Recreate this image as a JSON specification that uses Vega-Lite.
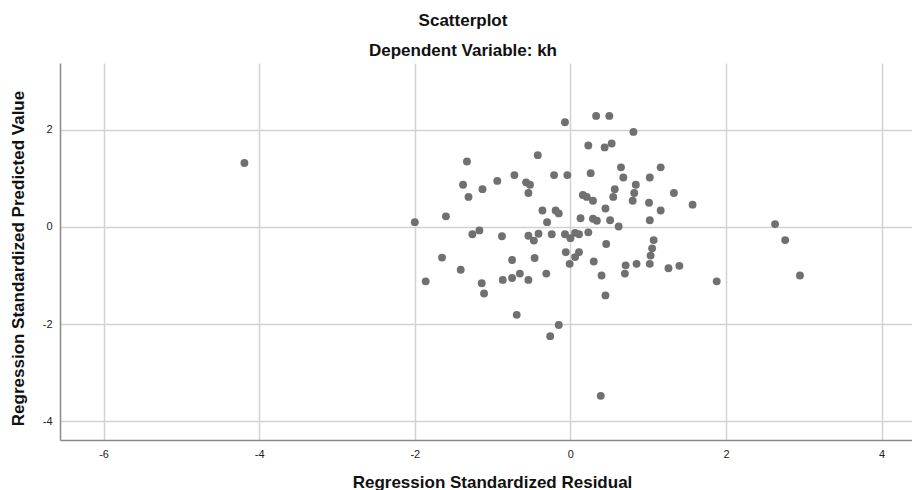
{
  "$schema": "https://vega.github.io/schema/vega-lite/v6.json",
  "autosize": {"type": "none"},
  "padding": {"left": 60, "top": 63, "right": 0, "bottom": 50},
  "width": 852,
  "height": 377,
  "background": "white",
  "title": {
    "text": "Scatterplot",
    "subtitle": "Dependent Variable: kh",
    "font": "Liberation Sans",
    "subtitleFont": "Liberation Sans",
    "fontSize": 17,
    "subtitleFontSize": 17,
    "fontWeight": "bold",
    "subtitleFontWeight": "bold",
    "color": "#111",
    "subtitleColor": "#111",
    "subtitlePadding": 13,
    "offset": 3,
    "dx": -23
  },
  "data": {
    "values": [
      {"residual": -4.19, "predicted": 1.32},
      {"residual": -2.0, "predicted": 0.1},
      {"residual": -1.86, "predicted": -1.12},
      {"residual": -1.65, "predicted": -0.63},
      {"residual": -1.6, "predicted": 0.22},
      {"residual": -1.41, "predicted": -0.88},
      {"residual": -1.38, "predicted": 0.87},
      {"residual": -1.33, "predicted": 1.35},
      {"residual": -1.31, "predicted": 0.62},
      {"residual": -1.26, "predicted": -0.15},
      {"residual": -1.17, "predicted": -0.07},
      {"residual": -1.14, "predicted": -1.16},
      {"residual": -1.13, "predicted": 0.78},
      {"residual": -1.11, "predicted": -1.37},
      {"residual": -0.94, "predicted": 0.95},
      {"residual": -0.88, "predicted": -0.19},
      {"residual": -0.87, "predicted": -1.09},
      {"residual": -0.75, "predicted": -1.05},
      {"residual": -0.75, "predicted": -0.68},
      {"residual": -0.72, "predicted": 1.07},
      {"residual": -0.69, "predicted": -1.81},
      {"residual": -0.65, "predicted": -0.96},
      {"residual": -0.57, "predicted": 0.92},
      {"residual": -0.52, "predicted": 0.87},
      {"residual": -0.54, "predicted": 0.7},
      {"residual": -0.54, "predicted": -0.18},
      {"residual": -0.54, "predicted": -1.09},
      {"residual": -0.47, "predicted": -0.28},
      {"residual": -0.46, "predicted": -0.64},
      {"residual": -0.42, "predicted": 1.48},
      {"residual": -0.41, "predicted": -0.14},
      {"residual": -0.36, "predicted": 0.34},
      {"residual": -0.31, "predicted": -0.96},
      {"residual": -0.3, "predicted": 0.1},
      {"residual": -0.26, "predicted": -2.25},
      {"residual": -0.24, "predicted": -0.15},
      {"residual": -0.21, "predicted": 1.07},
      {"residual": -0.19, "predicted": 0.34},
      {"residual": -0.15, "predicted": 0.28},
      {"residual": -0.15, "predicted": -2.02},
      {"residual": -0.07, "predicted": 2.16},
      {"residual": -0.07, "predicted": -0.15},
      {"residual": -0.06, "predicted": -0.52},
      {"residual": -0.04, "predicted": 1.07},
      {"residual": 0.0, "predicted": -0.23},
      {"residual": -0.01, "predicted": -0.76},
      {"residual": 0.06, "predicted": -0.12},
      {"residual": 0.06, "predicted": -0.62},
      {"residual": 0.11, "predicted": -0.15},
      {"residual": 0.11, "predicted": -0.52},
      {"residual": 0.13, "predicted": 0.18},
      {"residual": 0.16, "predicted": 0.66},
      {"residual": 0.21, "predicted": 0.62},
      {"residual": 0.23, "predicted": 1.68},
      {"residual": 0.23, "predicted": -0.11},
      {"residual": 0.26, "predicted": 1.11},
      {"residual": 0.29, "predicted": 0.54},
      {"residual": 0.29, "predicted": 0.17},
      {"residual": 0.3, "predicted": -0.71},
      {"residual": 0.33, "predicted": 2.29},
      {"residual": 0.34, "predicted": 0.13},
      {"residual": 0.39, "predicted": -3.48},
      {"residual": 0.4, "predicted": -1.0},
      {"residual": 0.44, "predicted": 1.64},
      {"residual": 0.45, "predicted": 0.38},
      {"residual": 0.46, "predicted": -0.35},
      {"residual": 0.45, "predicted": -1.41},
      {"residual": 0.5, "predicted": 2.29},
      {"residual": 0.51, "predicted": 0.14},
      {"residual": 0.53, "predicted": 1.72},
      {"residual": 0.55, "predicted": 0.62},
      {"residual": 0.57, "predicted": 0.78},
      {"residual": 0.62, "predicted": 0.01},
      {"residual": 0.65, "predicted": 1.23},
      {"residual": 0.68, "predicted": 1.02},
      {"residual": 0.7, "predicted": -0.96},
      {"residual": 0.71, "predicted": -0.79},
      {"residual": 0.8, "predicted": 0.54},
      {"residual": 0.81, "predicted": 1.96},
      {"residual": 0.82, "predicted": 0.7},
      {"residual": 0.84, "predicted": 0.87},
      {"residual": 0.85, "predicted": -0.76},
      {"residual": 1.01, "predicted": 0.5},
      {"residual": 1.02, "predicted": 1.02},
      {"residual": 1.02, "predicted": 0.14},
      {"residual": 1.07, "predicted": -0.27},
      {"residual": 1.05, "predicted": -0.44},
      {"residual": 1.03, "predicted": -0.59},
      {"residual": 1.02, "predicted": -0.76},
      {"residual": 1.16, "predicted": 1.23},
      {"residual": 1.16, "predicted": 0.34},
      {"residual": 1.26, "predicted": -0.85},
      {"residual": 1.33, "predicted": 0.7},
      {"residual": 1.4, "predicted": -0.8},
      {"residual": 1.57, "predicted": 0.46},
      {"residual": 1.88, "predicted": -1.12},
      {"residual": 2.63, "predicted": 0.06},
      {"residual": 2.76, "predicted": -0.27},
      {"residual": 2.95, "predicted": -1.0}
    ]
  },
  "mark": {"type": "circle", "size": 62, "color": "#707070", "opacity": 1},
  "encoding": {
    "x": {
      "field": "residual",
      "type": "quantitative",
      "title": "Regression Standardized Residual",
      "scale": {"domain": [-6.56, 4.39], "nice": false, "zero": false},
      "axis": {"values": [-6, -4, -2, 0, 2, 4], "titlePadding": 15, "titleX": 432}
    },
    "y": {
      "field": "predicted",
      "type": "quantitative",
      "title": "Regression Standardized Predicted Value",
      "scale": {"domain": [-4.39, 3.38], "nice": false, "zero": false},
      "axis": {"values": [-4, -2, 0, 2], "titlePadding": 15, "titleY": 195}
    }
  },
  "config": {
    "view": {"stroke": null},
    "axis": {
      "labelFont": "Liberation Sans",
      "labelFontSize": 11,
      "labelColor": "#222",
      "labelPadding": 8,
      "labelExpr": "replace(datum.label, '\u2212', '-')",
      "ticks": false,
      "domainColor": "#8a8a8a",
      "domainWidth": 1.5,
      "gridColor": "#d2d2d2",
      "gridWidth": 1.5,
      "titleFont": "Liberation Sans",
      "titleFontSize": 17,
      "titleFontWeight": "bold",
      "titleColor": "#111"
    }
  }
}
